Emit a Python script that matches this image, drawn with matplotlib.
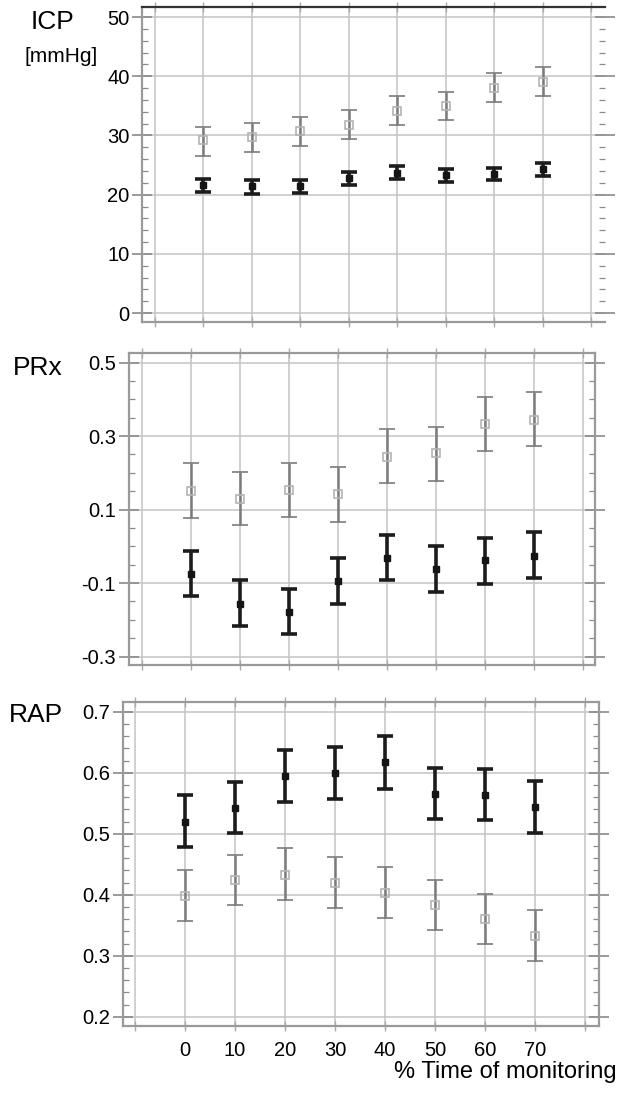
import numpy as np
import matplotlib
matplotlib.use("Agg")
import matplotlib.pyplot as plt
from matplotlib.ticker import MultipleLocator, FixedLocator, FixedFormatter

plt.rcParams['font.family'] = ['Liberation Sans', 'DejaVu Sans']

# data
time_pct = [0, 10, 20, 30, 40, 50, 60, 70]

# ICP [mmHg]
icp_gray_mean = [29.2, 29.7, 30.7, 31.7, 34.2, 34.9, 38.1, 39.1]
icp_gray_low = [26.6, 27.2, 28.2, 29.4, 31.8, 32.6, 35.7, 36.7]
icp_gray_high = [31.5, 32.1, 33.1, 34.3, 36.7, 37.4, 40.6, 41.6]
icp_dark_mean = [21.6, 21.4, 21.5, 22.8, 23.6, 23.4, 23.5, 24.3]
icp_dark_low = [20.4, 20.2, 20.3, 21.7, 22.6, 22.2, 22.5, 23.1]
icp_dark_high = [22.6, 22.4, 22.5, 23.9, 24.8, 24.4, 24.5, 25.3]

# PRx
prx_gray_mean = [0.151, 0.129, 0.153, 0.143, 0.244, 0.253, 0.333, 0.345]
prx_gray_low = [0.078, 0.057, 0.081, 0.067, 0.171, 0.179, 0.258, 0.272]
prx_gray_high = [0.226, 0.203, 0.228, 0.217, 0.319, 0.325, 0.407, 0.421]
prx_dark_mean = [-0.075, -0.156, -0.180, -0.094, -0.032, -0.062, -0.038, -0.026]
prx_dark_low = [-0.136, -0.216, -0.240, -0.156, -0.093, -0.124, -0.102, -0.086]
prx_dark_high = [-0.012, -0.091, -0.116, -0.033, 0.031, 0.000, 0.022, 0.038]

# RAP
rap_gray_mean = [0.398, 0.424, 0.433, 0.420, 0.403, 0.383, 0.360, 0.332]
rap_gray_low = [0.357, 0.384, 0.392, 0.379, 0.362, 0.343, 0.319, 0.292]
rap_gray_high = [0.440, 0.466, 0.476, 0.462, 0.445, 0.425, 0.402, 0.375]
rap_dark_mean = [0.520, 0.543, 0.595, 0.599, 0.618, 0.566, 0.563, 0.544]
rap_dark_low = [0.479, 0.501, 0.552, 0.557, 0.574, 0.525, 0.522, 0.502]
rap_dark_high = [0.563, 0.585, 0.637, 0.642, 0.660, 0.608, 0.607, 0.586]

x_grid = [-10, 0, 10, 20, 30, 40, 50, 60, 70, 80]
x_labels = ['', '0', '10', '20', '30', '40', '50', '60', '70', '']
icp_ticks = [0, 10, 20, 30, 40, 50]
prx_ticks = [-0.3, -0.1, 0.1, 0.3, 0.5]
rap_ticks = [0.2, 0.3, 0.4, 0.5, 0.6, 0.7]

W, H = 620, 1094
fig = plt.figure(figsize=(W / 100, H / 100), dpi=100)


def box(l, t, r, b):
    return [l / W, 1 - b / H, (r - l) / W, (b - t) / H]


def panel(rect, xlim, ylim, yticks, minor, gray, dark, fmt, bottom_labels=False):
    ax = fig.add_axes(box(*rect))
    ax.set_xlim(*xlim)
    ax.set_ylim(*ylim)
    ax.xaxis.set_major_locator(FixedLocator(x_grid))
    ax.xaxis.set_major_formatter(FixedFormatter(x_labels if bottom_labels else [''] * len(x_grid)))
    ax.yaxis.set_major_locator(FixedLocator(yticks))
    ax.yaxis.set_minor_locator(MultipleLocator(minor))
    ax.yaxis.set_major_formatter(plt.FuncFormatter(lambda v, p: fmt.format(v)))
    ax.grid(True, which='major', color='#c4c4c4', lw=1.1)
    ax.set_axisbelow(True)
    ax.tick_params(axis='y', which='major', direction='inout', length=14, width=1.2,
                   color='#8a8a8a', labelsize=14.5, pad=2, right=True)
    ax.tick_params(axis='y', which='minor', direction='in', length=4, width=0.9,
                   color='#8a8a8a', right=True)
    ax.tick_params(axis='x', which='major', direction='inout', length=7, width=1,
                   color='#aaaaaa', labelsize=14.5, pad=7, top=True)
    for s in ax.spines.values():
        s.set_color('#9a9a9a')
        s.set_linewidth(1.6)

    m, lo, hi = (np.array(a) for a in gray)
    ax.errorbar(time_pct, m, yerr=[m - lo, hi - m], fmt='s', ms=5.5, mfc='none',
                mec='#b4b4b4', mew=1.2, ecolor='#7c7c7c', elinewidth=1.8,
                capsize=5.5, capthick=1.8, zorder=3)
    m, lo, hi = (np.array(a) for a in dark)
    ax.errorbar(time_pct, m, yerr=[m - lo, hi - m], fmt='s', ms=5, mfc='#151515',
                mec='#151515', ecolor='#1c1c1c', elinewidth=2.6,
                capsize=5.5, capthick=2.6, zorder=4)
    return ax


ax1 = panel((142, 7, 605, 322), (-12.6, 82.8), (-1.5, 51.7), icp_ticks, 2,
            (icp_gray_mean, icp_gray_low, icp_gray_high),
            (icp_dark_mean, icp_dark_low, icp_dark_high), '{:.0f}')
ax1.spines['right'].set_visible(False)
ax1.spines['top'].set_color('#333333')

ax2 = panel((128.5, 353, 595, 665), (-12.75, 82.4), (-0.323, 0.526), prx_ticks, 0.05,
            (prx_gray_mean, prx_gray_low, prx_gray_high),
            (prx_dark_mean, prx_dark_low, prx_dark_high), '{:.1f}')

ax3 = panel((122.5, 702, 598.5, 1026), (-12.5, 82.7), (0.185, 0.716), rap_ticks, 0.02,
            (rap_gray_mean, rap_gray_low, rap_gray_high),
            (rap_dark_mean, rap_dark_low, rap_dark_high), '{:.1f}', bottom_labels=True)

fig.text(31 / W, 1 - 22 / H, 'ICP', fontsize=19, va='center', ha='left')
fig.text(24 / W, 1 - 57 / H, '[mmHg]', fontsize=15, va='center', ha='left')
fig.text(13 / W, 1 - 368 / H, 'PRx', fontsize=19, va='center', ha='left')
fig.text(9 / W, 1 - 715 / H, 'RAP', fontsize=19, va='center', ha='left')
fig.text(617 / W, 1 - 1078 / H, '% Time of monitoring', fontsize=17, va='baseline', ha='right')

fig.savefig('out.png', dpi=100)
